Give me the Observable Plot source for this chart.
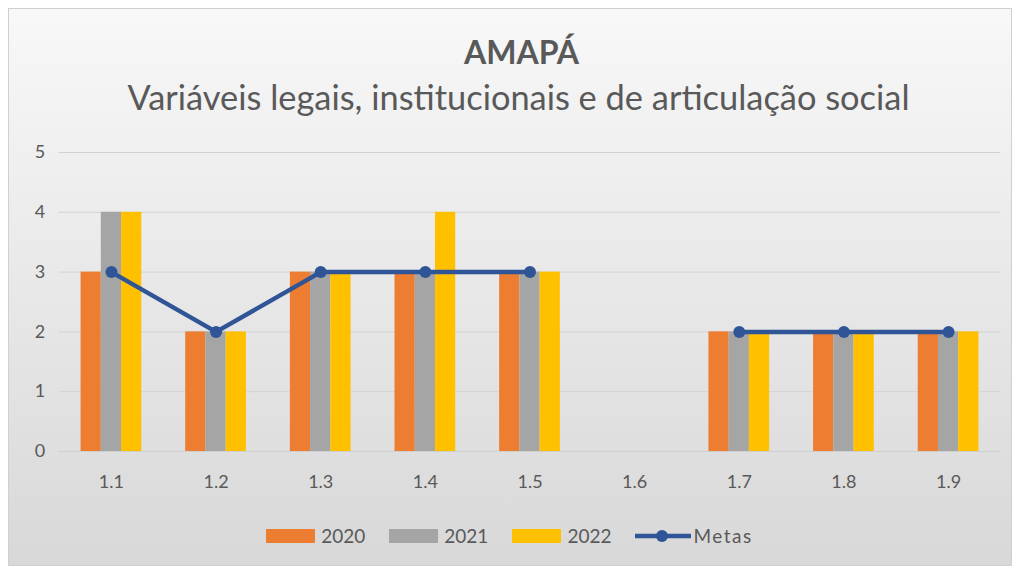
<!DOCTYPE html>
<html><head><meta charset="utf-8">
<script src="https://cdn.jsdelivr.net/npm/d3@7"></script>
<script src="https://cdn.jsdelivr.net/npm/@observablehq/plot@0.6"></script>
<style>
body{margin:0;background:#fff;font-family:Lato,sans-serif;width:1019px;height:570px;overflow:hidden;position:relative;}
#frame{position:absolute;left:8px;top:8px;width:1002px;height:556px;border:1px solid #d0d0d0;background:linear-gradient(#f8f8f8,#d8d8d8);}
.layer{position:absolute;left:0;top:142px;}
#title{position:absolute;top:35.5px;left:12px;width:1019px;text-align:center;font-weight:bold;font-size:32px;line-height:32px;color:#595959;}
#subtitle{position:absolute;top:79.5px;left:9px;width:1019px;text-align:center;font-size:34.4px;line-height:34.4px;color:#595959;}
#legend{position:absolute;top:524px;left:0;width:1019px;display:flex;justify-content:center;align-items:center;font-size:19px;color:#595959;}
.item{display:flex;align-items:center;margin:0 12px;}
.sw{width:49px;height:14px;margin-right:6px;}
</style></head>
<body>
<div id="frame"></div>
<div id="title">AMAPÁ</div>
<div id="subtitle">Variáveis legais, institucionais e de articulação social</div>
<div id="gridLayer" class="layer"></div>
<div id="barLayer" class="layer"></div>
<div id="lineLayer" class="layer"></div>
<div id="legend"></div>
<script>
const categories = ["1.1","1.2","1.3","1.4","1.5","1.6","1.7","1.8","1.9"];
const years = ["2020","2021","2022"];
const values2020 = [3,2,3,3,3,0,2,2,2];
const values2021 = [4,2,3,3,3,0,2,2,2];
const values2022 = [4,2,3,4,3,0,2,2,2];
const metas = [3,2,3,3,3,null,2,2,2];
const yTicks = [0,1,2,3,4,5];
const yearColors = ["#ed7d31","#a5a5a5","#ffc000"];
const metaColor = "#2f5597";
const metaLabel = "Metas";

const series = [values2020, values2021, values2022];
const rows = [];
categories.forEach((c,i)=>years.forEach((y,j)=>rows.push({cat:c, year:y, value:series[j][i]})));
const metaRows = categories.map((c,i)=>({cat:c, meta:metas[i]}));

const W=1019, H=350, ML=58.6, MR=18.6, MT=10, MB=41;
const base = {width:W, height:H, marginLeft:ML, marginRight:MR, marginTop:MT, marginBottom:MB,
  style:{background:"transparent", fontFamily:"Lato, sans-serif", fontSize:"18px", color:"#595959", overflow:"visible"}};

const grid = Plot.plot({...base,
  x:{type:"point", domain:categories, padding:0.5, round:false, axis:"bottom", tickSize:0, tickPadding:24, label:null},
  y:{domain:[0,5], ticks:yTicks, tickSize:0, tickPadding:14, label:null, tickFormat:d=>String(d)},
  marks:[
    Plot.ruleY(yTicks.filter(v=>v>0), {stroke:"#d3d3d3", strokeWidth:1}),
    Plot.ruleY([0], {stroke:"#cfcfcf", strokeWidth:1})
  ]});
document.getElementById("gridLayer").appendChild(grid);

const bars = Plot.plot({...base,
  facet:{data:rows, x:"cat"},
  fx:{domain:categories, paddingInner:0.42, paddingOuter:0.21, round:false, axis:null, label:null},
  x:{domain:years, padding:0, round:false, axis:null},
  y:{domain:[0,5], axis:null},
  color:{domain:years, range:yearColors},
  marks:[Plot.barY(rows, {x:"year", y:"value", fill:"year"})]
});
document.getElementById("barLayer").appendChild(bars);

const line = Plot.plot({...base,
  x:{type:"point", domain:categories, padding:0.5, round:false, axis:null},
  y:{domain:[0,5], axis:null},
  marks:[
    Plot.line(metaRows, {x:"cat", y:"meta", stroke:metaColor, strokeWidth:4.5}),
    Plot.dot(metaRows.filter(d=>d.meta!=null), {x:"cat", y:"meta", fill:metaColor, r:6})
  ]});
document.getElementById("lineLayer").appendChild(line);

const legend = document.getElementById("legend");
years.forEach((y,i)=>{
  const it=document.createElement("div"); it.className="item";
  it.innerHTML=`<div class="sw" style="background:${yearColors[i]}"></div><span>${y}</span>`;
  legend.appendChild(it);
});
const mi=document.createElement("div"); mi.className="item";
mi.innerHTML=`<svg width="56" height="14" style="margin-right:2px"><line x1="0" y1="7" x2="56" y2="7" stroke="${metaColor}" stroke-width="4.5"/><circle cx="27" cy="7" r="6" fill="${metaColor}"/></svg><span style="letter-spacing:1.5px">${metaLabel}</span>`;
legend.appendChild(mi);
</script>
</body></html>
